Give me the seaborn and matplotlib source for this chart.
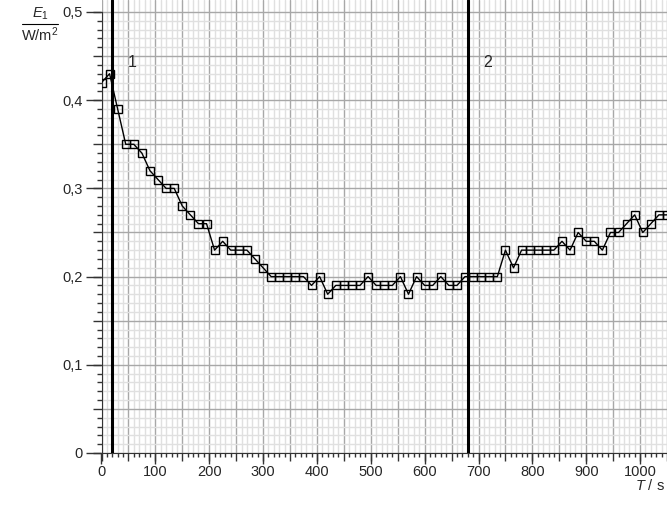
import matplotlib
matplotlib.use("Agg")
import matplotlib.pyplot as plt
from matplotlib.lines import Line2D
from matplotlib.ticker import MultipleLocator, FixedLocator, FuncFormatter, NullFormatter
import numpy as np
import pandas as pd
import seaborn as sns

# ---- data ----
time_s = [0, 15, 30, 45, 60, 75, 90, 105, 120, 135, 150, 165, 180, 195, 210,
          225, 240, 255, 270, 285, 300, 315, 330, 345, 360, 375, 390, 405, 420,
          435, 450, 465, 480, 495, 510, 525, 540, 555, 570, 585, 600, 615, 630,
          645, 660, 675, 690, 705, 720, 735, 750, 765, 780, 795, 810, 825, 840,
          855, 870, 885, 900, 915, 930, 945, 960, 975, 990, 1005, 1020, 1035, 1050]
e1_values = [0.42, 0.43, 0.39, 0.35, 0.35, 0.34, 0.32, 0.31, 0.30, 0.30, 0.28,
             0.27, 0.26, 0.26, 0.23, 0.24, 0.23, 0.23, 0.23, 0.22, 0.21, 0.20,
             0.20, 0.20, 0.20, 0.20, 0.19, 0.20, 0.18, 0.19, 0.19, 0.19, 0.19,
             0.20, 0.19, 0.19, 0.19, 0.20, 0.18, 0.20, 0.19, 0.19, 0.20, 0.19,
             0.19, 0.20, 0.20, 0.20, 0.20, 0.20, 0.23, 0.21, 0.23, 0.23, 0.23,
             0.23, 0.23, 0.24, 0.23, 0.25, 0.24, 0.24, 0.23, 0.25, 0.25, 0.26,
             0.27, 0.25, 0.26, 0.27, 0.27]
event_times = [20, 680]
event_labels = ["1", "2"]
x_tick_labels = [0, 100, 200, 300, 400, 500, 600, 700, 800, 900, 1000]
y_tick_values = [0.0, 0.1, 0.2, 0.3, 0.4, 0.5]

df = pd.DataFrame({"T": time_s, "E1": e1_values})

sns.set_style("white")
plt.rcParams["font.family"] = ["Liberation Sans", "DejaVu Sans"]
plt.rcParams["mathtext.fontset"] = "custom"
plt.rcParams["mathtext.rm"] = "Liberation Sans"
plt.rcParams["mathtext.it"] = "Liberation Sans:italic"

W, H = 667, 508
fig = plt.figure(figsize=(W / 100, H / 100), dpi=100)
x0_px, y0_px = 101.5, 453.0
ax = fig.add_axes([x0_px / W, (H - y0_px) / H, (W - x0_px) / W, y0_px / H])

sns.lineplot(data=df, x="T", y="E1", ax=ax, color="black", linewidth=1.0,
             marker="s", markersize=6.0, markerfacecolor="none",
             markeredgecolor="black", markeredgewidth=1.0, zorder=5)

ax.set_xlim(0, 1050)
ax.set_ylim(0, 0.5136)

# grid
ax.xaxis.set_major_locator(MultipleLocator(50))
ax.xaxis.set_minor_locator(MultipleLocator(10))
ax.yaxis.set_major_locator(FixedLocator(np.arange(0, 0.501, 0.05)))
ax.yaxis.set_minor_locator(FixedLocator(np.arange(0, 0.501, 0.01)))
ax.xaxis.set_major_formatter(NullFormatter())
ax.yaxis.set_major_formatter(NullFormatter())
ax.grid(which="minor", color="#e0e0e0", linewidth=1.0, zorder=0)
ax.grid(which="major", color="#a8a8a8", linewidth=1.0, zorder=0)
ax.set_axisbelow(True)

ax.tick_params(axis="x", which="major", direction="out", length=5.8, width=1, color="#333333", bottom=True)
ax.tick_params(axis="x", which="minor", direction="out", length=3, width=1, color="#333333", bottom=True)
ax.tick_params(axis="y", which="major", direction="out", length=6.5, width=1, color="#333333", left=True)
ax.tick_params(axis="y", which="minor", direction="out", length=3.6, width=1, color="#333333", left=True)

for s in ["top", "right"]:
    ax.spines[s].set_visible(False)
ax.spines["left"].set_color("#333333")
ax.spines["bottom"].set_color("#333333")
ax.spines["left"].set_bounds(0, 0.5)
ax.set_xlabel("")
ax.set_ylabel("")

# labelled long ticks
secx = ax.secondary_xaxis("bottom")
secx.set_xticks(x_tick_labels)
secx.xaxis.set_major_formatter(FuncFormatter(lambda v, p: f"{int(round(v))}"))
secx.tick_params(length=8, width=1, color="#333333", labelsize=10.5, pad=0.5)
secx.spines["bottom"].set_visible(False)

secy = ax.secondary_yaxis("left")
secy.set_yticks(y_tick_values)
secy.yaxis.set_major_formatter(FuncFormatter(lambda v, p: "0" if abs(v) < 1e-9 else f"{v:.1f}".replace(".", ",")))
secy.tick_params(length=10.8, width=1, color="#333333", labelsize=10.5, pad=2.5)
secy.spines["left"].set_visible(False)

# event lines
for t, lab in zip(event_times, event_labels):
    ax.axvline(t, color="black", linewidth=2.2, zorder=4)
    ax.text(t + 28, 0.443, lab, fontsize=11.5, ha="left", va="center", zorder=6)

# axis titles
fig.text(40 / W, 1 - 14 / H, r"$E_1$", fontsize=10.5, ha="center", va="center")
fig.add_artist(Line2D([22 / W, 58 / W], [1 - 24 / H, 1 - 24 / H], color="black", linewidth=0.8))
fig.text(40 / W, 1 - 35 / H, r"W/m$^2$", fontsize=10.5, ha="center", va="center")
fig.text(665 / W, 1 - 486 / H, r"$T$ / s", fontsize=10.5, ha="right", va="center")

fig.savefig("out.png", dpi=100)
